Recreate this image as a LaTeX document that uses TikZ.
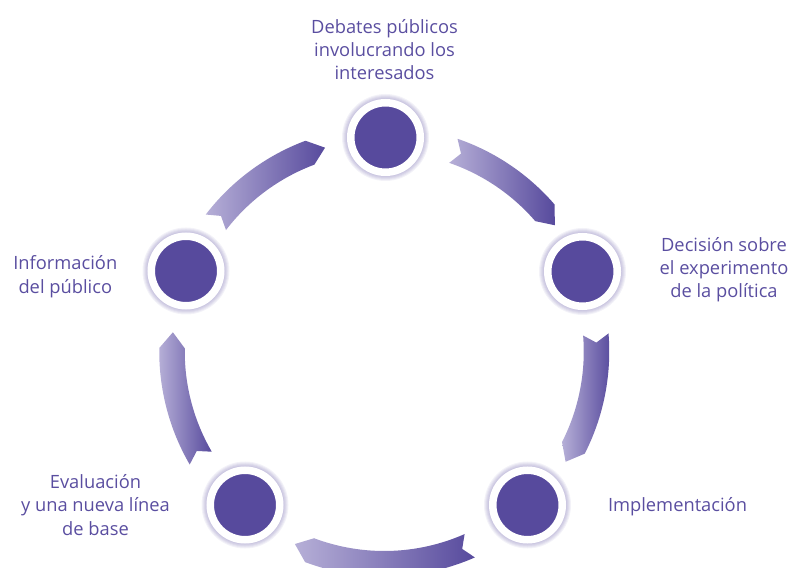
\documentclass[tikz,border=0pt]{standalone}
\usepackage{fontspec}
\setmainfont{Open Sans}
\definecolor{deep}{HTML}{574A9D}
\definecolor{lav}{HTML}{B6AFD7}
\definecolor{txt}{HTML}{5A4EA0}
\begin{document}
\begin{tikzpicture}[x=1pt,y=1pt,
  lbl/.style={text=txt, align=center, inner sep=0pt, anchor=base,
    font=\fontsize{18.3}{23.3}\selectfont},
  stage/.style={circle, fill=deep, draw=white, line width=7.5pt,
    minimum size=69.5pt, inner sep=0pt},
  ribbon/.style={left color=lav, right color=deep},
  glow/.style={fill=deep, fill opacity=0.07},
]
\useasboundingbox (0,0) rectangle (791,567);
\clip (0,0) rectangle (791,567);

% centre of the cycle and ribbon radii (outer, inner, middle)
\coordinate (ring) at (384.25,215.5);
\def\Ro{225}\def\Ri{199.5}\def\Rm{212.25}

% stage positions
\coordinate (c1) at (385.5,429.5);
\coordinate (c2) at (582.5,295.5);
\coordinate (c3) at (527.5,62);
\coordinate (c4) at (245,62);
\coordinate (c5) at (186,296);

% curved ribbon arrows, clockwise: tail angle / head angle
\foreach \t/\h in {71/40.8, 4.6/-27, -66.25/-110.6, 210.15/179.1, 142.5/110.5}
  \shade[ribbon] ([shift={(ring)}]\t:\Ro)
      arc[start angle=\t, end angle=\h, radius=\Ro]
      -- ([shift={(ring)}]{\h-4.3}:\Rm)
      -- ([shift={(ring)}]\h:\Ri)
      arc[start angle=\h, end angle=\t, radius=\Ri]
      -- ([shift={(ring)}]{\t-2.2}:\Rm) -- cycle;

% soft halo behind each stage
\foreach \c in {c1,c2,c3,c4,c5}
  \foreach \r in {43.5,42.5,41.5,40.5,39.5}
    \fill[glow] (\c) circle (\r);

% stages
\node[stage] (s1) at (c1) {};
\node[stage] (s2) at (c2) {};
\node[stage] (s3) at (c3) {};
\node[stage] (s4) at (c4) {};
\node[stage] (s5) at (c5) {};

% labels (base = baseline of the last line)
\node[lbl] (l1) at (384.5,487) {Debates públicos\\involucrando los\\interesados};
\node[lbl] (l2) at (724,269) {Decisión sobre\\el experimento\\de la política};
\node[lbl] (l3) at (677.5,55.3) {Implementación};
\node[lbl] (l4) at (95.5,32) {Evaluación\\y una nueva línea\\de base};
\node[lbl] (l5) at (65.3,273.7) {Información\\del público};
\end{tikzpicture}
\end{document}
